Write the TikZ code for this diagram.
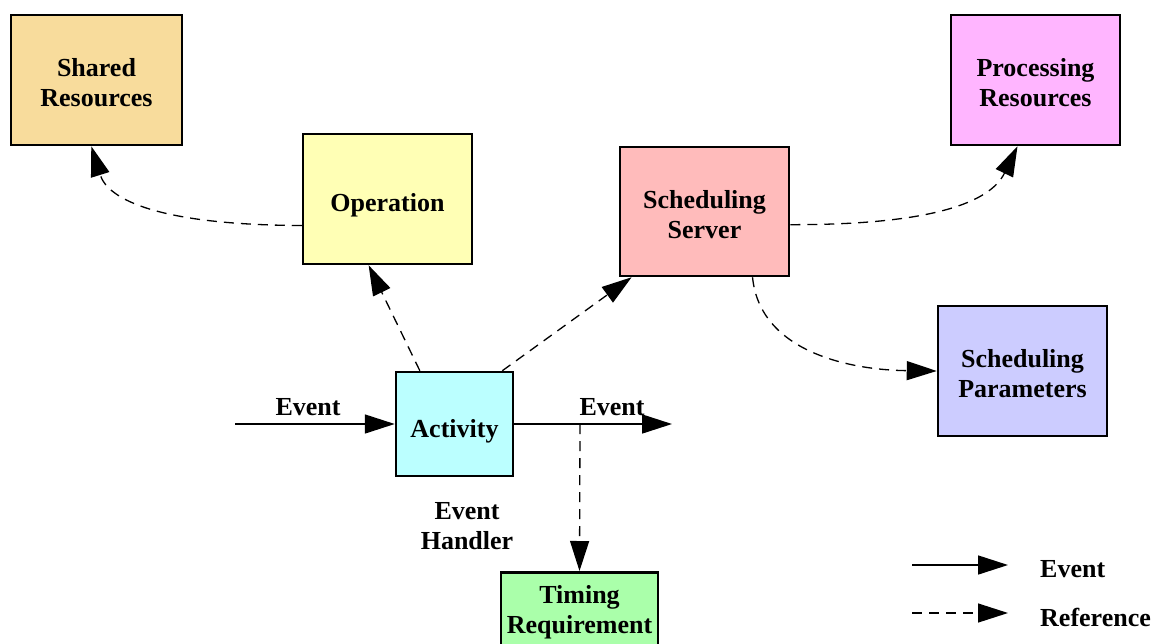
\documentclass[tikz,border=0pt]{standalone}
\usepackage{fontspec}
\setmainfont{Liberation Serif}
\usetikzlibrary{arrows.meta,calc}

\definecolor{sharedfill}{HTML}{F8DC9C}
\definecolor{opfill}{HTML}{FFFFB5}
\definecolor{srvfill}{HTML}{FFBBBB}
\definecolor{procfill}{HTML}{FFB5FF}
\definecolor{paramfill}{HTML}{CCCCFF}
\definecolor{actfill}{HTML}{BBFFFF}
\definecolor{timefill}{HTML}{AAFFAA}

\tikzset{
  entity/.style={draw=black, line width=2.5pt, inner sep=0pt, align=center,
    font=\fontsize{26}{30}\selectfont\bfseries},
  twoline/.style={text height=53pt, text depth=0pt},
  lbl/.style={inner sep=0pt, align=center, font=\fontsize{26}{30}\selectfont\bfseries},
  tip/.style={-{Triangle[length=30pt,width=19pt]}},
  evt/.style={tip, line width=1.6pt},
  ref/.style={tip, line width=1.3pt, dash pattern=on 10pt off 7pt},
}

\begin{document}
\begin{tikzpicture}[x=1pt,y=-1pt]
\useasboundingbox (0,0) rectangle (1159,643);
\clip (0,0) rectangle (1159,643);

% model elements
\node[entity, twoline, fill=sharedfill, minimum width=171pt, minimum height=130pt] (shared) at (96.5,80) {Shared\\Resources};
\node[entity, fill=opfill, minimum width=169pt, minimum height=130pt, text height=24pt, text depth=0pt] (op) at (387.5,199) {Operation};
\node[entity, twoline, fill=srvfill, minimum width=169pt, minimum height=129pt] (srv) at (704.5,211.5) {Scheduling\\Server};
\node[entity, twoline, fill=procfill, minimum width=169pt, minimum height=130pt] (proc) at (1035.5,80) {Processing\\Resources};
\node[entity, twoline, fill=paramfill, minimum width=169pt, minimum height=130pt] (params) at (1022.5,371) {Scheduling\\Parameters};
\node[entity, fill=actfill, minimum width=117pt, minimum height=104pt, text height=26pt, text depth=0pt] (act) at (454.5,424) {Activity};
\node[entity, fill=timefill, minimum width=157pt, minimum height=80pt, anchor=north] (timing) at (579.5,571) {Timing\\Requirement};

% event flow through the activity
\coordinate (evin) at (235,424);
\coordinate (evout) at (672,424);
\coordinate (tap) at (580,424);
\draw[evt] (evin) -- (act.west);
\draw[evt] (act.east) -- (evout);
\node[lbl] (evinlbl) at (308,407) {Event};
\node[lbl] (evoutlbl) at (612,407) {Event};
\node[lbl] (handler) at (467,526) {Event\\Handler};

% references
\draw[ref] ($(act.north west)!0.21!(act.north east)$) -- ($(op.south west)!0.39!(op.south east)$);
\draw[ref] ($(act.north west)!0.9!(act.north east)$) -- ($(srv.south west)!0.075!(srv.south east)$);
\draw[ref] ($(op.north west)!0.7!(op.south west)$) .. controls (160,225) and (108,200) .. ($(shared.south west)!0.47!(shared.south east)$);
\draw[ref] ($(srv.north east)!0.6!(srv.south east)$) .. controls (930,225) and (990,203) .. ($(proc.south west)!0.395!(proc.south east)$);
\draw[ref] ($(srv.south west)!0.78!(srv.south east)$) .. controls (760,352) and (850,370) .. (params.west);
\draw[ref] (tap) -- (timing.north);

% legend
\coordinate (leva) at (912,565);
\coordinate (levb) at (1008,565);
\coordinate (lrefa) at (912,613);
\coordinate (lrefb) at (1008,613);
\draw[evt] (leva) -- (levb);
\draw[ref] (lrefa) -- (lrefb);
\node[lbl, anchor=west] (legev) at (1040,569) {Event};
\node[lbl, anchor=west] (legref) at (1040,617) {Reference};
\end{tikzpicture}
\end{document}
